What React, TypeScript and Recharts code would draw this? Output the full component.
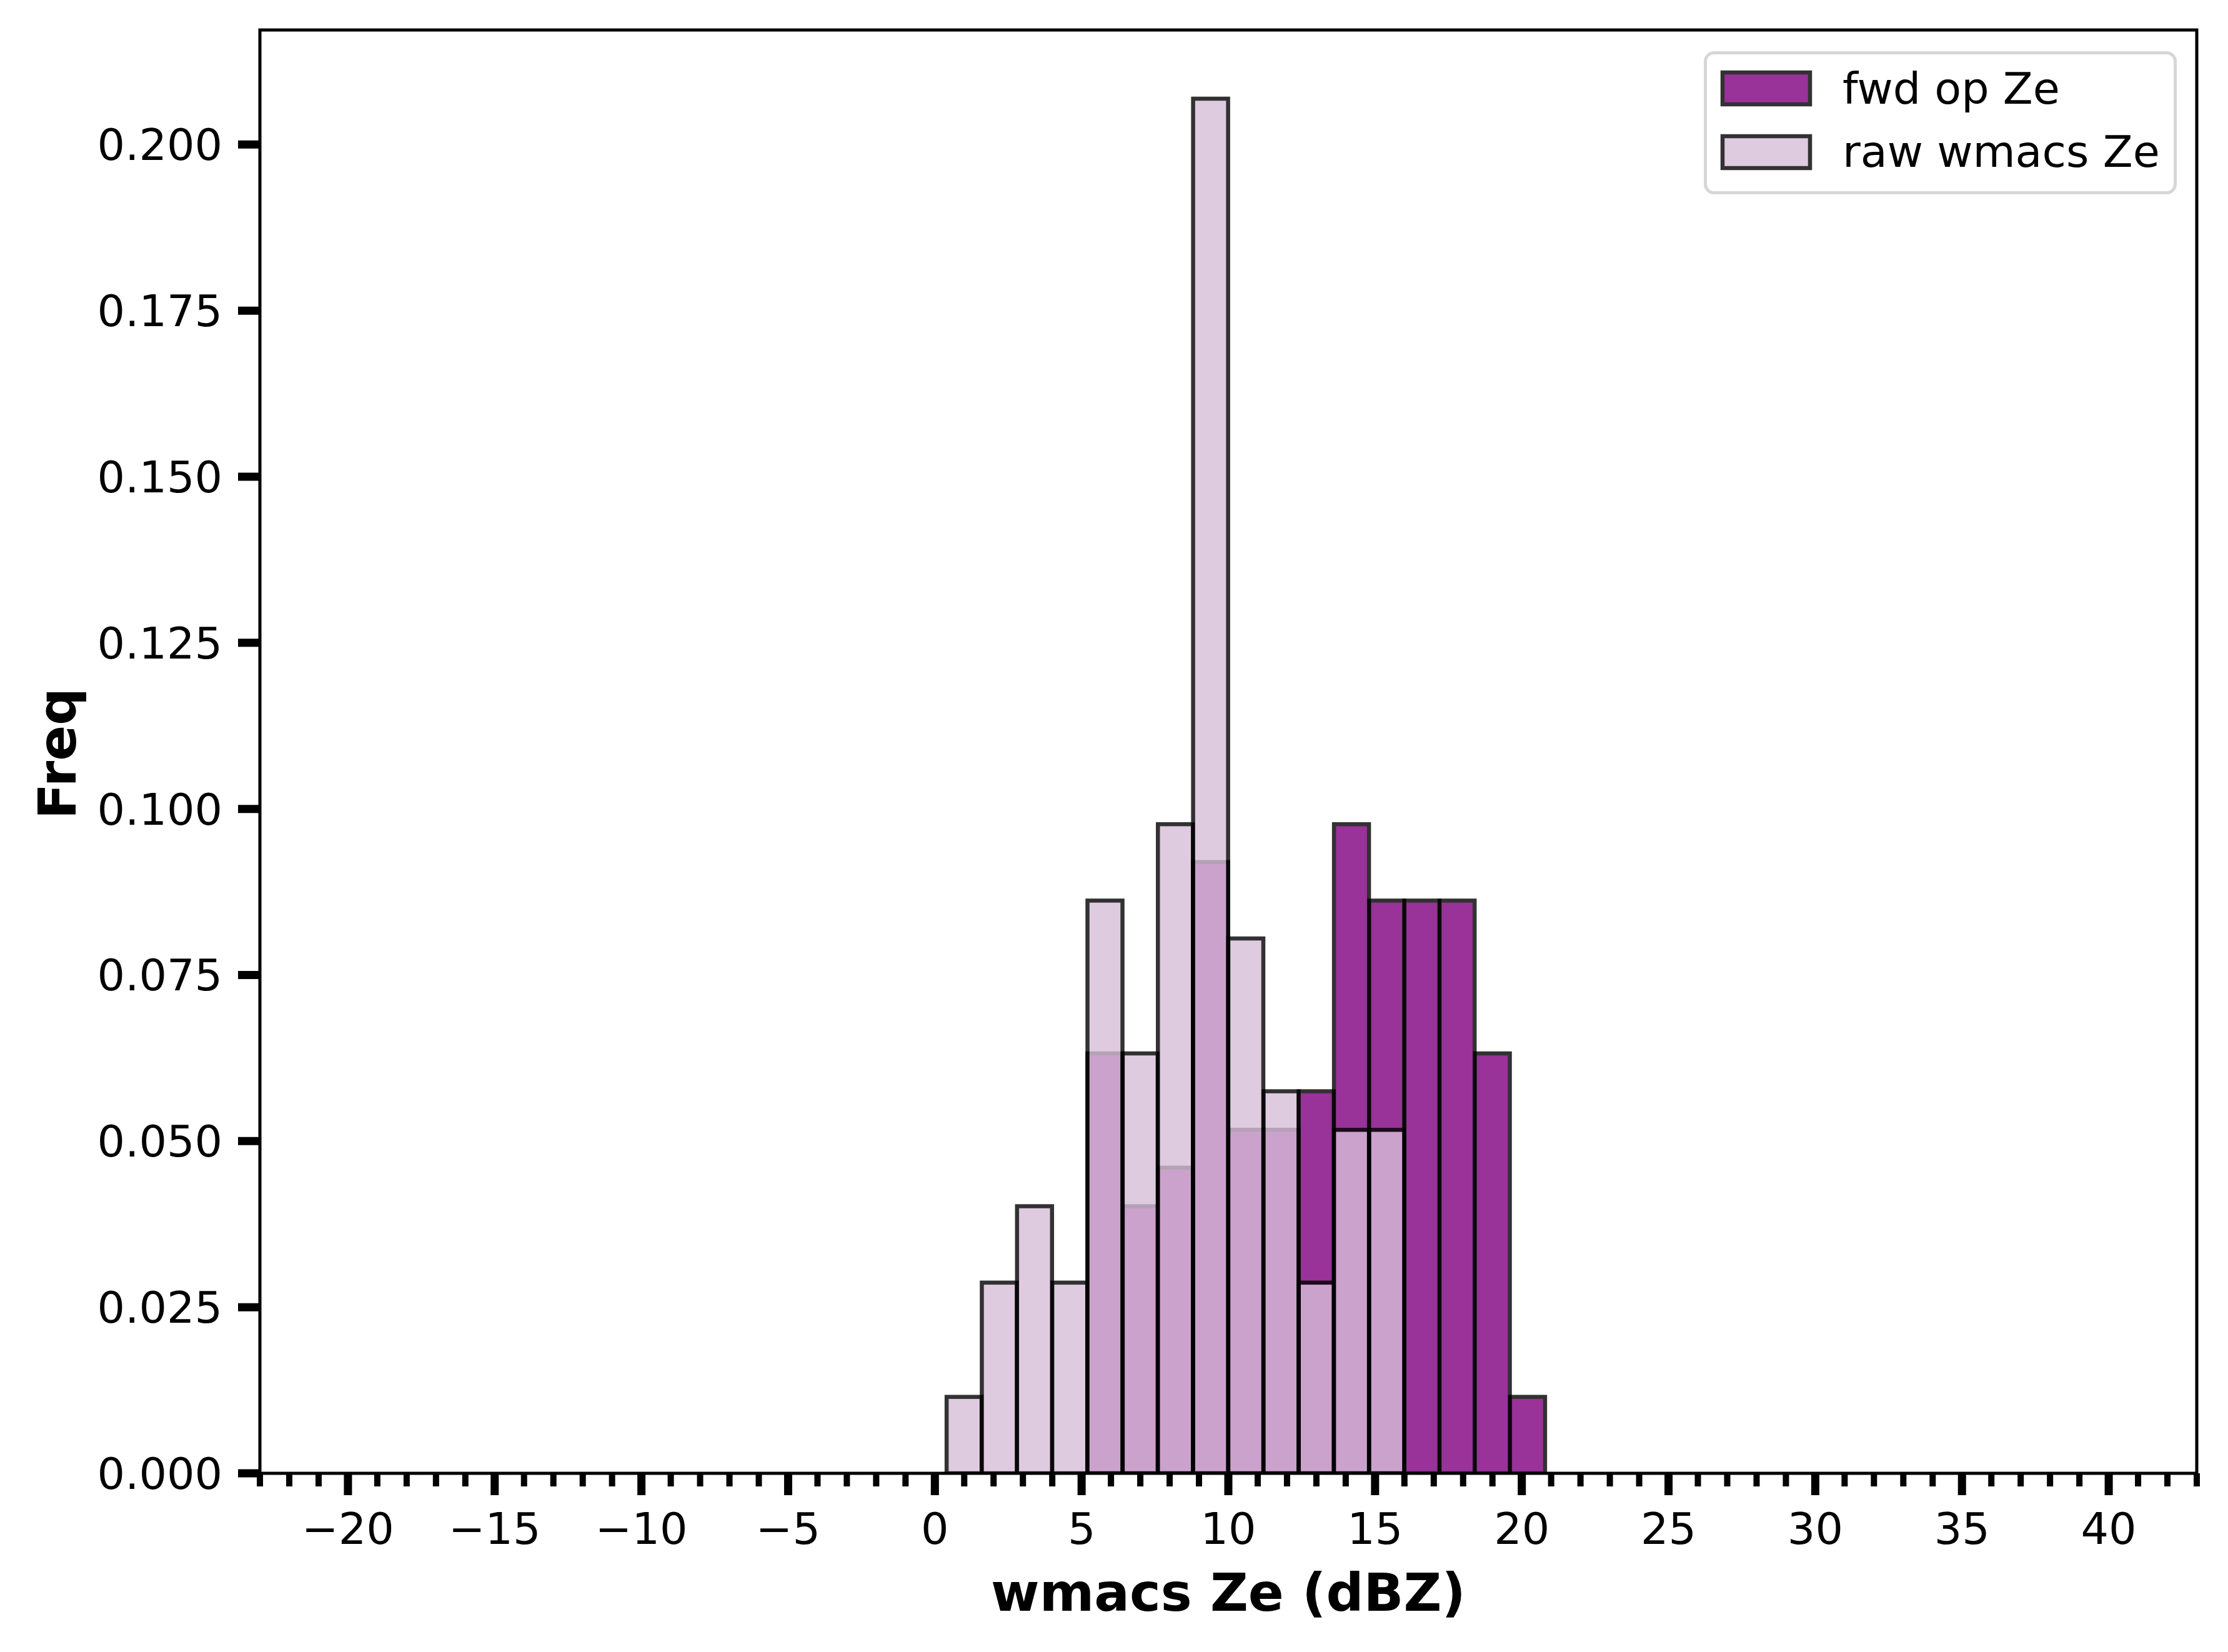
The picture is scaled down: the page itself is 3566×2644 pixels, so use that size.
import React from 'react';
import { BarChart, Bar, XAxis, YAxis, ReferenceArea, Label } from 'recharts';

// Histogram bin centres (bin width 1.2 dBZ)
const binCenters = [1.0, 2.2, 3.4, 4.6, 5.8, 7.0, 8.2, 9.4, 10.6, 11.8, 13.0, 14.2, 15.4, 16.6, 17.8, 19.0, 20.2];
// fwd op Ze frequencies
const fwdFreq = [0, 0, 0, 0, 0.0632, 0.0402, 0.046, 0.092, 0.0517, 0.0517, 0.0575, 0.0977, 0.0862, 0.0862, 0.0862, 0.0632, 0.0115];
// raw wmacs Ze frequencies
const rawFreq = [0.0115, 0.0287, 0.0402, 0.0287, 0.0862, 0.0632, 0.0977, 0.2069, 0.0805, 0.0575, 0.0287, 0.0517, 0.0517, 0, 0, 0, 0];

const seriesNames = ['fwd op Ze', 'raw wmacs Ze'];
const xTicks = [-23, -22, -21, -20, -19, -18, -17, -16, -15, -14, -13, -12, -11, -10, -9, -8, -7, -6, -5, -4, -3, -2, -1, 0, 1, 2, 3, 4, 5, 6, 7, 8, 9, 10, 11, 12, 13, 14, 15, 16, 17, 18, 19, 20, 21, 22, 23, 24, 25, 26, 27, 28, 29, 30, 31, 32, 33, 34, 35, 36, 37, 38, 39, 40, 41, 42, 43];
const yTicks = [0, 0.025, 0.05, 0.075, 0.1, 0.125, 0.15, 0.175, 0.2];
const xDomain = [-23, 43];
const yDomain = [0, 0.21724];

const data = binCenters.map((x, i) => ({ x, fwd: fwdFreq[i], raw: rawFreq[i] }));

const FONT = 'DejaVu Sans';
const fmtX = (v: number) => (v < 0 ? '\u2212' + Math.abs(v) : String(v));

const XTick = (props: any) => {
  const { x, y, payload } = props;
  const v = payload.value;
  const major = Math.abs(v % 5) < 1e-9;
  return (
    <g>
      <line x1={x} x2={x} y1={y} y2={y + (major ? 35 : 21)} stroke="#000" strokeWidth={major ? 13 : 10} />
      {major && (
        <text x={x} y={y + 113} textAnchor="middle" fontSize={70} fill="#000" fontFamily={FONT}>
          {fmtX(v)}
        </text>
      )}
    </g>
  );
};

const makeShape = (fill: string) => (p: any) => {
  if (!p.height || p.height <= 0) return <g />;
  return (
    <rect
      x={p.x}
      y={p.y}
      width={p.width}
      height={p.height}
      fill={fill}
      stroke="#000"
      strokeWidth={6.5}
      opacity={0.8}
    />
  );
};

const colors = ['#800080', '#d8bfd8'];

const LegendBox = () => (
  <svg
    width={760}
    height={232}
    style={{ position: 'absolute', left: 2725, top: 80, overflow: 'visible' }}
  >
    <rect x={4.5} y={4.5} width={752} height={224} rx={14} ry={14} fill="#fff" stroke="#d6d6d6" strokeWidth={5} />
    {seriesNames.map((name, i) => (
      <g key={name}>
        <rect
          x={32}
          y={36 + i * 102}
          width={140}
          height={51}
          fill={colors[i]}
          stroke="#000"
          strokeWidth={6.5}
          opacity={0.8}
        />
        <text x={224} y={86 + i * 101} fontSize={70} fill="#000" fontFamily={FONT}>
          {name}
        </text>
      </g>
    ))}
  </svg>
);

export default function App() {
  return (
    <div style={{ position: 'absolute', left: 0, top: 0, width: 3566, height: 2644, background: '#fff', fontFamily: FONT }}>
      <BarChart
        width={3566}
        height={2644}
        data={data}
        margin={{ top: 48, right: 50, left: 0, bottom: 0 }}
        barCategoryGap={0}
        barGap={0}
      >
        <XAxis
          xAxisId="main"
          dataKey="x"
          type="number"
          domain={xDomain}
          ticks={xTicks}
          interval={0}
          tick={<XTick />}
          tickLine={false}
          tickSize={0}
          tickMargin={0}
          axisLine={false}
          height={286}
          allowDataOverflow
        >
          <Label
            value="wmacs Ze (dBZ)"
            position="insideBottom"
            offset={66}
            fontSize={84}
            fontWeight="bold"
            fill="#000"
            fontFamily={FONT}
          />
        </XAxis>
        <XAxis xAxisId="raw" dataKey="x" type="number" domain={xDomain} hide allowDataOverflow />
        <YAxis
          type="number"
          domain={yDomain}
          ticks={yTicks}
          interval={0}
          width={416}
          tickFormatter={(v: number) => v.toFixed(3)}
          tick={{ fontSize: 70, fill: '#000', fontFamily: FONT }}
          tickLine={{ stroke: '#000', strokeWidth: 13 }}
          tickSize={35}
          tickMargin={25}
          axisLine={false}
          allowDataOverflow
          label={{
            content: (props: any) => {
              const vb = props.viewBox || { x: 0, y: 48, height: 2310 };
              const cx = vb.x + 121;
              const cy = vb.y + vb.height / 2 + 3;
              return (
                <text
                  x={cx}
                  y={cy}
                  transform={`rotate(-90 ${cx} ${cy})`}
                  textAnchor="middle"
                  fontSize={84}
                  fontWeight="bold"
                  fill="#000"
                  fontFamily={FONT}
                >
                  Freq
                </text>
              );
            },
          }}
        />
        <Bar
          xAxisId="main"
          dataKey="fwd"
          name={seriesNames[0]}
          isAnimationActive={false}
          shape={makeShape(colors[0])}
        />
        <Bar
          xAxisId="raw"
          dataKey="raw"
          name={seriesNames[1]}
          isAnimationActive={false}
          shape={makeShape(colors[1])}
        />
        <ReferenceArea
          xAxisId="main"
          x1={xDomain[0]}
          x2={xDomain[1]}
          y1={yDomain[0]}
          y2={yDomain[1]}
          fill="none"
          stroke="#000"
          strokeWidth={5}
          ifOverflow="visible"
        />
      </BarChart>
      <LegendBox />
    </div>
  );
}
